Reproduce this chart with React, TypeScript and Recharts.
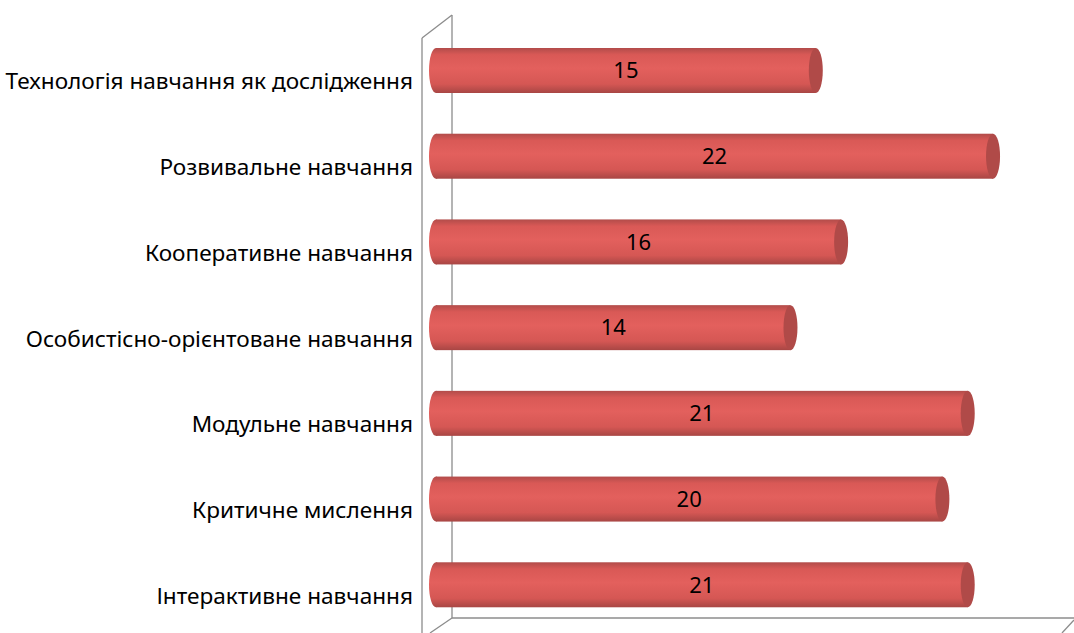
import React from 'react'
import { BarChart, Bar, XAxis, YAxis, LabelList } from 'recharts'

const categories = [
  'Технологія навчання як дослідження',
  'Розвивальне навчання',
  'Кооперативне навчання',
  'Особистісно-орієнтоване навчання',
  'Модульне навчання',
  'Критичне мислення',
  'Інтерактивне навчання'
]
const values = [15, 22, 16, 14, 21, 20, 21]

const data = categories.map((name, i) => ({ name, value: values[i] }))

const W = 1074
const H = 633
const FONT = '"Noto Sans", "Open Sans", sans-serif'

// cylinder bar: body + rounded near end + darker cut face at the far end
const Cylinder = (props: any) => {
  const { x, y, width, height } = props
  const rx = 7
  const cy = y + height / 2
  return (
    <g>
      <ellipse cx={x} cy={cy} rx={rx} ry={height / 2} fill="url(#cyl)" />
      <rect x={x} y={y} width={width} height={height} fill="url(#cyl)" />
      <ellipse cx={x + width} cy={cy} rx={rx} ry={height / 2} fill="#b04a48" />
    </g>
  )
}

// category label, sitting a little lower than the bar (3D perspective)
const CatTick = (props: any) => {
  const { x, y, payload } = props
  return (
    <text
      x={x}
      y={y + 10}
      textAnchor="end"
      dominantBaseline="central"
      fill="#000"
      fontSize={22.6}
      fontFamily={FONT}
    >
      {payload.value}
    </text>
  )
}

// 3D walls/floor outline, drawn behind the chart
const Frame = () => (
  <svg width={W} height={H} style={{ position: 'absolute', left: 0, top: 0 }}>
    <g stroke="#8c8c8c" strokeWidth={1.3} fill="none">
      <line x1={422} y1={38} x2={422} y2={H} />
      <line x1={422} y1={38} x2={452} y2={15} />
      <line x1={452} y1={15} x2={452} y2={618} />
      <line x1={452} y1={618} x2={W} y2={618} />
      <line x1={452} y1={618} x2={430} y2={H} />
      <line x1={W} y1={620} x2={1062} y2={H} />
    </g>
  </svg>
)

export default function App() {
  return (
    <div style={{ position: 'absolute', left: 0, top: 0, width: W, height: H, background: '#fff' }}>
      <Frame />
      <div style={{ position: 'absolute', left: 0, top: 0 }}>
        <BarChart
          width={W}
          height={H}
          data={data}
          layout="vertical"
          margin={{ top: 28, right: 5, bottom: 5, left: 0 }}
          barSize={45}
        >
          <defs>
            <linearGradient id="cyl" x1="0" y1="0" x2="0" y2="1">
              <stop offset="0%" stopColor="#b24c4a" />
              <stop offset="15%" stopColor="#d95956" />
              <stop offset="45%" stopColor="#e3605d" />
              <stop offset="80%" stopColor="#d55754" />
              <stop offset="100%" stopColor="#a84644" />
            </linearGradient>
          </defs>
          <XAxis type="number" domain={[0, 25]} hide />
          <YAxis
            type="category"
            dataKey="name"
            width={436}
            axisLine={false}
            tickLine={false}
            tickSize={0}
            tickMargin={23}
            tick={<CatTick />}
          />
          <Bar dataKey="value" shape={<Cylinder />} isAnimationActive={false}>
            <LabelList
              dataKey="value"
              position="center"
              fill="#000"
              fontSize={22}
              fontFamily={FONT}
            />
          </Bar>
        </BarChart>
      </div>
    </div>
  )
}
